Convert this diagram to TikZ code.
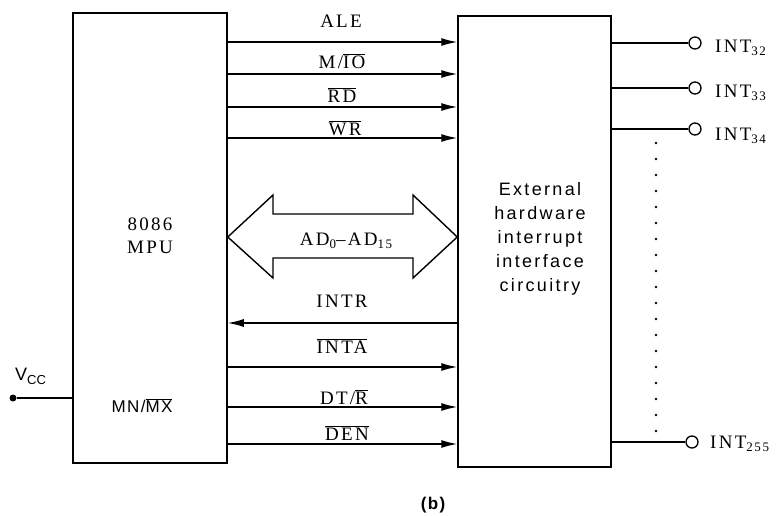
\documentclass[tikz,border=0pt]{standalone}
\usepackage{fontspec}
\setmainfont{Liberation Serif}
\setsansfont{Liberation Sans}
\newfontfamily\sigfont[LetterSpace=12]{Liberation Serif}
\newfontfamily\boxfont[LetterSpace=13]{Liberation Sans}
\newfontfamily\pinfont[LetterSpace=8]{Liberation Sans}
\usetikzlibrary{arrows.meta}
% overlined (active-low) signal name in the current text font
\newcommand{\ovl}[1]{$\overline{\mbox{#1}}$}
% lowered, smaller index
\newcommand{\lo}[1]{\raisebox{-0.45ex}{\fontsize{13}{13}\selectfont #1}}

\begin{document}
\begin{tikzpicture}[x=1pt,y=-1pt,
  chip/.style={draw, line width=1.5pt, inner sep=0pt},
  wire/.style={line width=1.4pt},
  sig/.style={wire, -{Latex[length=16pt,width=8pt]}},
  siglabel/.style={font=\fontsize{19}{22}\sigfont, inner sep=0pt, anchor=base},
  pinout/.style={draw, circle, line width=1.3pt, minimum size=12pt, inner sep=0pt, fill=white},
  intlabel/.style={font=\fontsize{19}{22}\sigfont, inner sep=0pt, anchor=base west},
  dot/.style={circle, fill, minimum size=7pt, inner sep=0pt}]

\useasboundingbox (0,0) rectangle (777,515);

% the two blocks
\node[chip, minimum width=154pt, minimum height=450pt] (mpu) at (150,238) {};
\node[chip, minimum width=153pt, minimum height=451pt] (ic) at (534.5,241.5) {};

\node[font=\fontsize{19}{23}\sigfont, inner sep=0pt, anchor=base] (cpu1) at (150,230) {8086};
\node[font=\fontsize{19}{23}\sigfont, inner sep=0pt, anchor=base] (cpu2) at (150,253) {MPU};
\node[font=\fontsize{18}{24}\boxfont, align=center, inner sep=0pt] (ictext) at (540,239)
  {External\\hardware\\interrupt\\interface\\circuitry};

% signal levels
\coordinate (yale) at (0,42);
\coordinate (ymio) at (0,74);
\coordinate (yrd)  at (0,107);
\coordinate (ywr)  at (0,138);
\coordinate (ybus) at (0,237);
\coordinate (yintr) at (0,323);
\coordinate (yinta) at (0,367);
\coordinate (ydtr) at (0,407);
\coordinate (yden) at (0,444);

% control lines
\draw[sig] (mpu.east |- yale) -- (ic.west |- yale);
\draw[sig] (mpu.east |- ymio) -- (ic.west |- ymio);
\draw[sig] (mpu.east |- yrd)  -- (ic.west |- yrd);
\draw[sig] (mpu.east |- ywr)  -- (ic.west |- ywr);
\draw[sig] (ic.west |- yintr) -- (mpu.east |- yintr);
\draw[sig] (mpu.east |- yinta) -- (ic.west |- yinta);
\draw[sig] (mpu.east |- ydtr) -- (ic.west |- ydtr);
\draw[sig] (mpu.east |- yden) -- (ic.west |- yden);

\node[siglabel] (lale) at (341,27) {ALE};
\node[siglabel] (lmio) at (342,68) {M/\ovl{IO}};
\node[siglabel] (lrd)  at (342,102) {\ovl{RD}};
\node[siglabel] (lwr)  at (345,135) {\ovl{WR}};
\node[siglabel] (lintr) at (342,307) {INTR};
\node[siglabel] (linta) at (342,353) {\ovl{INTA}};
\node[siglabel] (ldtr) at (344,404) {DT/\ovl{R}};
\node[siglabel] (lden) at (347,440) {\ovl{DEN}};

% bidirectional address/data bus
\draw[wire, line join=miter] (mpu.east |- ybus) -- (273,195) -- (273,214) -- (413,214) -- (413,195)
  -- (ic.west |- ybus) -- (413,278) -- (413,258) -- (273,258) -- (273,278) -- cycle;
\node[siglabel] (lbus) at (346,245) {AD\lo{0}–AD\lo{15}};

% interrupt request inputs
\node[pinout] (p32) at (695,43) {};
\node[pinout] (p33) at (695,88) {};
\node[pinout] (p34) at (695,129) {};
\node[pinout] (p255) at (692,442) {};
\draw[wire] (ic.east |- p32) -- (p32.west);
\draw[wire] (ic.east |- p33) -- (p33.west);
\draw[wire] (ic.east |- p34) -- (p34.west);
\draw[wire] (ic.east |- p255) -- (p255.west);
\node[intlabel] (l32) at (715,52) {INT\lo{32}};
\node[intlabel] (l33) at (715,97) {INT\lo{33}};
\node[intlabel] (l34) at (715,140) {INT\lo{34}};
\node[intlabel] (l255) at (710,448) {INT\lo{255}};

% continuation dots
\foreach \y in {143,159,...,431} \fill (656,\y) circle (1.4pt);

% mode pin tied to Vcc
\node[dot] (vcc) at (13,398) {};
\draw[wire] (vcc) -- (mpu.west |- vcc);
\node[font=\fontsize{18}{20}\sffamily, inner sep=0pt, anchor=base west] (lvcc) at (15,380) {V\lo{CC}};
\node[font=\fontsize{17}{20}\pinfont, inner sep=0pt, anchor=base] (lmnmx) at (142,412) {MN/\ovl{MX}};

\node[font=\fontsize{17}{20}\pinfont\bfseries, inner sep=0pt] (cap) at (433,505) {(b)};
\end{tikzpicture}
\end{document}
